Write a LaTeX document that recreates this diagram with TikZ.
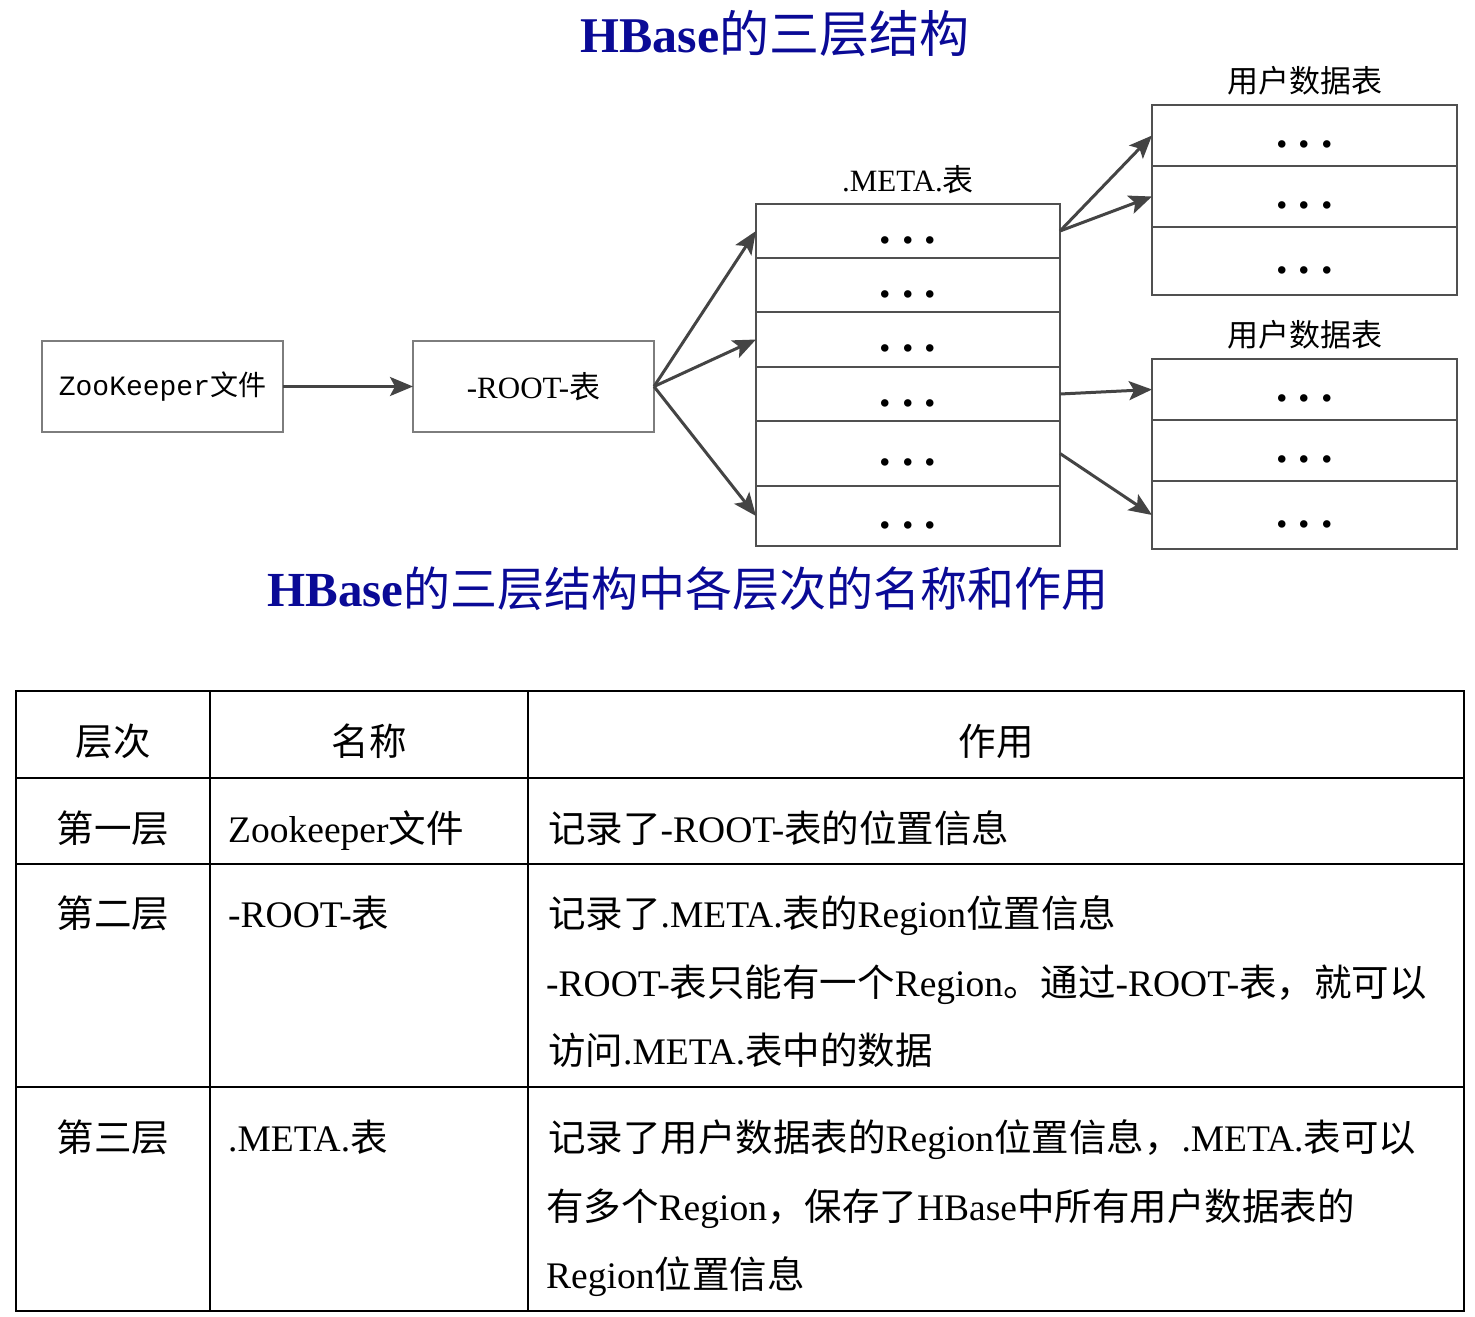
\documentclass[tikz,border=0pt]{standalone}
\usepackage{fontspec}
\setmainfont{Liberation Serif}
\setmonofont{Liberation Mono}
\newfontfamily\cjk{Noto Sans CJK SC}
\usetikzlibrary{arrows.meta}
\usetikzlibrary{positioning}
\definecolor{titleblue}{RGB}{10,10,150}
\definecolor{boxgray}{RGB}{125,125,125}
\definecolor{rowgray}{RGB}{80,80,80}
\definecolor{arrowgray}{RGB}{68,68,68}
\newcommand\zh[1]{{\cjk #1}}
\newcommand\dotrow{\raisebox{-12pt}{\fontsize{46}{46}\selectfont\textbf{.}\hspace{11pt}\textbf{.}\hspace{11pt}\textbf{.}}}
\tikzset{
    title text/.style={text=titleblue,inner sep=0pt,anchor=base},
    table rule/.style={line width=2.5pt},
}

\begin{document}
\begin{tikzpicture}[x=1pt,y=-1pt,
    file box/.style={draw=boxgray,line width=2.5pt,minimum width=241pt,minimum height=91pt,inner sep=0pt,outer sep=0pt,font=\fontsize{31}{36}\selectfont},
    meta row/.style={draw=rowgray,line width=2.5pt,minimum width=304pt,outer sep=0pt,inner sep=0pt,text height=0pt,text depth=0pt},
    user row/.style={meta row,minimum width=305pt},
    head label/.style={font=\fontsize{31}{36}\selectfont,inner sep=0pt},
    link/.style={-{Stealth[length=23pt,width=19pt,inset=5pt]},color=arrowgray,line width=3pt},
    cell/.style={font=\fontsize{37.5}{45}\selectfont,inner sep=0pt,anchor=base west},
    mid cell/.style={cell,anchor=base}]
    \useasboundingbox (0,0) rectangle (1475,1317);

    \node[title text] (title) at (775,52) {{\fontsize{50}{55}\selectfont\bfseries HBase}\zh{\fontsize{50}{55}\selectfont 的三层结构}};

    % first level and -ROOT-
    \node[file box] (zk) at (162.5,386.5) {{\ttfamily\fontsize{28}{32}\selectfont ZooKeeper}\zh{\fontsize{28}{32}\selectfont 文件}};
    \node[file box] (root) [right=130pt of zk] {-ROOT-\zh{表}};

    % .META. table
    \node[meta row,minimum height=54pt] (m1) at (908,231) {\dotrow};
    \node[meta row,minimum height=54pt] (m2) [below=0pt of m1] {\dotrow};
    \node[meta row,minimum height=55pt] (m3) [below=0pt of m2] {\dotrow};
    \node[meta row,minimum height=54pt] (m4) [below=0pt of m3] {\dotrow};
    \node[meta row,minimum height=65pt] (m5) [below=0pt of m4] {\dotrow};
    \node[meta row,minimum height=60pt] (m6) [below=0pt of m5] {\dotrow};
    \node[head label] (meta label) [above=10pt of m1] {.META.\zh{表}};

    % user tables
    \node[user row,minimum height=61pt] (u1a) at (1304.5,135.5) {\dotrow};
    \node[user row,minimum height=61pt] (u1b) [below=0pt of u1a] {\dotrow};
    \node[user row,minimum height=68pt] (u1c) [below=0pt of u1b] {\dotrow};
    \node[head label] (user label1) [above=10pt of u1a] {\zh{用户数据表}};
    \node[user row,minimum height=61pt] (u2a) [below=64pt of u1c] {\dotrow};
    \node[user row,minimum height=61pt] (u2b) [below=0pt of u2a] {\dotrow};
    \node[user row,minimum height=68pt] (u2c) [below=0pt of u2b] {\dotrow};
    \node[head label] (user label2) [above=10pt of u2a] {\zh{用户数据表}};

    \path[link]
        (zk) edge (root)
        (root.east) edge (m1.west)
            edge (m3.west)
            edge (m6.west)
        (m1.east) edge (u1a.west)
            edge (u1b.west)
        (m4.east) edge (u2a.west)
        (m5.east) edge (u2c.west);

    \node[title text] (subtitle) at (688,606) {{\fontsize{49}{55}\selectfont\bfseries HBase}\zh{\fontsize{47}{52}\selectfont 的三层结构中各层次的名称和作用}};

    % table of levels
    \draw[table rule] (16,691) rectangle (1464,1311);
    \foreach \x in {210,528}
        \draw[table rule] (\x,691) -- (\x,1311);
    \foreach \y in {778,864,1087}
        \draw[table rule] (16,\y) -- (1464,\y);

    \node[mid cell] (h1) at (113,755) {\zh{层次}};
    \node[mid cell] (h2) at (369,755) {\zh{名称}};
    \node[mid cell] (h3) at (996,755) {\zh{作用}};

    \node[mid cell] (l1) at (113,842) {\zh{第一层}};
    \node[cell] (n1) at (228,842) {Zookeeper\zh{文件}};
    \node[cell] (r1) at (548,842) {\zh{记录了}-ROOT-\zh{表的位置信息}};

    \node[mid cell] (l2) at (113,927) {\zh{第二层}};
    \node[cell] (n2) at (228,927) {-ROOT-\zh{表}};
    \node[cell] (r2a) at (548,927) {\zh{记录了}.META.\zh{表的}Region\zh{位置信息}};
    \node[cell] (r2b) at (546,996) {-ROOT-\zh{表只能有一个}Region\zh{。通过}-ROOT-\zh{表，就可以}};
    \node[cell] (r2c) at (548,1064) {\zh{访问}.META.\zh{表中的数据}};

    \node[mid cell] (l3) at (113,1151) {\zh{第三层}};
    \node[cell] (n3) at (228,1151) {.META.\zh{表}};
    \node[cell] (r3a) at (548,1151) {\zh{记录了用户数据表的}Region\zh{位置信息，}.META.\zh{表可以}};
    \node[cell] (r3b) at (546,1220) {\zh{有多个}Region\zh{，保存了}HBase\zh{中所有用户数据表的}};
    \node[cell] (r3c) at (546,1288) {Region\zh{位置信息}};
\end{tikzpicture}
\end{document}
